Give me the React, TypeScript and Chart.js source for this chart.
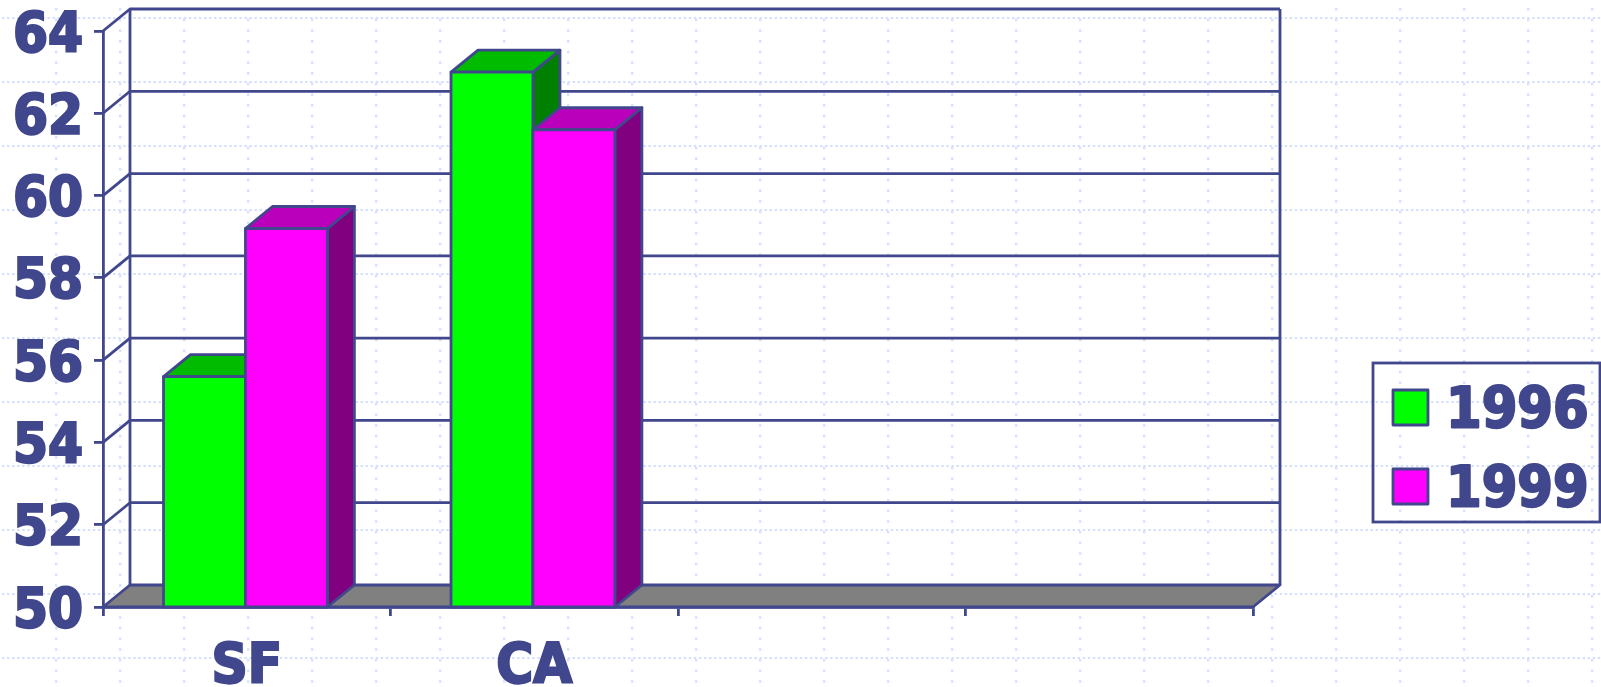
import React, { useEffect, useRef } from "react";
import { Chart, registerables } from "chart.js";

Chart.register(...registerables);

const categories = ["SF", "CA", "", ""];
const values1996 = [55.6, 63.0, null, null];
const values1999 = [59.2, 61.6, null, null];
const yMin = 50;
const yMax = 64;
const yStep = 2;

const INK = "#41478c";
const FONT = '"DejaVu Sans Condensed", "DejaVu Sans", sans-serif';
const DEPTH_X = 27;
const DEPTH_Y = 22;
const LINE = 2.8;
const BAR_NUDGE = -1.3;
const Y_LABEL_DROP = 5;
const TEXT_STROKE = 2.2;

const poly = (ctx: CanvasRenderingContext2D, pts: number[][], fill: string | null, lw = LINE) => {
  ctx.beginPath();
  pts.forEach((p, i) => (i ? ctx.lineTo(p[0], p[1]) : ctx.moveTo(p[0], p[1])));
  ctx.closePath();
  if (fill) {
    ctx.fillStyle = fill;
    ctx.fill();
  }
  ctx.lineWidth = lw;
  ctx.strokeStyle = INK;
  ctx.lineJoin = "round";
  ctx.stroke();
};

const scene = {
  id: "scene",
  beforeDraw(chart: any) {
    const { ctx, width, height } = chart;
    chart.scales.y.getLabelItems(chart.chartArea).forEach((item: any) => {
      if (!item.dropped) {
        item.textOffset += Y_LABEL_DROP;
        item.dropped = true;
      }
    });
    ctx.save();
    ctx.fillStyle = "#ffffff";
    ctx.fillRect(0, 0, width, height);
    ctx.fillStyle = "#d3dffb";
    for (let y = 17; y < height; y += 64) {
      for (let x = 2; x < width; x += 5.05) ctx.fillRect(x, y, 2.4, 2);
    }
    ctx.fillStyle = "#d6e1fb";
    for (let x = 55; x < width; x += 64) {
      for (let y = 8; y < height; y += 10.67) ctx.fillRect(x, y, 2.4, 2.6);
    }
    ctx.restore();
  },
  beforeDatasetsDraw(chart: any) {
    const { ctx, chartArea: a, scales } = chart;
    const y = scales.y;
    ctx.save();
    const bx = a.left + DEPTH_X;
    const rx = a.right + DEPTH_X;
    const by = a.bottom - DEPTH_Y;
    poly(ctx, [[a.left, a.bottom], [bx, by], [rx, by], [a.right, a.bottom]], "#808080");
    ctx.lineWidth = LINE;
    ctx.strokeStyle = INK;
    y.ticks.forEach((t: any) => {
      if (t.value === yMin) return;
      const py = y.getPixelForValue(t.value);
      ctx.beginPath();
      ctx.moveTo(a.left, py);
      ctx.lineTo(bx, py - DEPTH_Y);
      ctx.lineTo(rx, py - DEPTH_Y);
      ctx.stroke();
    });
    ctx.beginPath();
    ctx.moveTo(bx, by);
    ctx.lineTo(bx, a.top - DEPTH_Y);
    ctx.moveTo(rx, a.top - DEPTH_Y);
    ctx.lineTo(rx, by);
    ctx.stroke();
    ctx.restore();
  },
  afterDatasetsDraw(chart: any) {
    const { ctx, scales } = chart;
    const base = scales.y.getPixelForValue(yMin);
    ctx.save();
    chart.data.datasets.forEach((ds: any, index: number) => {
      const meta = chart.getDatasetMeta(index);
      meta.data.forEach((bar: any, i: number) => {
        if (ds.data[i] == null) return;
        const { x, y, width } = bar.getProps(["x", "y", "width"], true);
        const l = x - width / 2 + BAR_NUDGE;
        const r = x + width / 2 + BAR_NUDGE;
        poly(ctx, [[r, y], [r + DEPTH_X, y - DEPTH_Y], [r + DEPTH_X, base - DEPTH_Y], [r, base]], ds.sideColor);
        poly(ctx, [[l, y], [l + DEPTH_X, y - DEPTH_Y], [r + DEPTH_X, y - DEPTH_Y], [r, y]], ds.topColor);
        poly(ctx, [[l, y], [r, y], [r, base], [l, base]], ds.backgroundColor);
      });
    });
    ctx.restore();
  },
  afterDraw(chart: any) {
    const { ctx } = chart;
    ctx.save();
    ctx.strokeStyle = INK;
    ctx.lineWidth = LINE;
    ctx.strokeRect(1373, 363, 227, 159);
    const rows = [408, 487];
    chart.data.datasets.forEach((ds: any, i: number) => {
      const cy = rows[i];
      poly(ctx, [[1393, cy - 18], [1428, cy - 18], [1428, cy + 17], [1393, cy + 17]], ds.backgroundColor);
      ctx.fillStyle = INK;
      ctx.strokeStyle = INK;
      ctx.lineWidth = TEXT_STROKE;
      ctx.font = `bold 57px ${FONT}`;
      ctx.textAlign = "left";
      ctx.textBaseline = "middle";
      ctx.fillText(ds.label, 1446, cy + 5);
      ctx.strokeText(ds.label, 1446, cy + 5);
    });
    ctx.restore();
  },
};

export default function App() {
  const ref = useRef<HTMLCanvasElement>(null);
  useEffect(() => {
    const chart = new Chart(ref.current as HTMLCanvasElement, {
      type: "bar",
      data: {
        labels: categories,
        datasets: [
          {
            label: "1996",
            data: values1996,
            base: yMin,
            backgroundColor: "#00ff00",
            topColor: "#00bb00",
            sideColor: "#008000",
            borderWidth: 0,
          } as any,
          {
            label: "1999",
            data: values1999,
            base: yMin,
            backgroundColor: "#ff00ff",
            topColor: "#bb00bb",
            sideColor: "#800080",
            borderWidth: 0,
          } as any,
        ],
      },
      options: {
        responsive: false,
        animation: false,
        devicePixelRatio: 1,
        layout: { padding: { left: 0, top: 31, right: 348, bottom: 0 } },
        plugins: { legend: { display: false }, tooltip: { enabled: false }, title: { display: false } },
        datasets: { bar: { categoryPercentage: 0.57, barPercentage: 1 } },
        scales: {
          x: {
            afterFit: (s: any) => {
              s.height = 80;
              s.paddingLeft = 0;
              s.paddingRight = 0;
            },
            grid: { offset: true, drawOnChartArea: false, color: INK, lineWidth: LINE, tickLength: 9 },
            border: { color: INK, width: LINE },
            ticks: {
              color: INK,
              font: { family: FONT, size: 56, weight: "bold" },
              textStrokeColor: INK,
              textStrokeWidth: TEXT_STROKE,
              padding: 18,
              maxRotation: 0,
              autoSkip: false,
            },
          },
          y: {
            min: yMin,
            max: yMax,
            afterFit: (s: any) => {
              s.width = 103;
              s.paddingTop = 0;
              s.paddingBottom = 0;
            },
            grid: { drawOnChartArea: false, color: INK, lineWidth: LINE, tickLength: 9 },
            border: { color: INK, width: LINE },
            ticks: {
              stepSize: yStep,
              color: INK,
              font: { family: FONT, size: 56, weight: "bold" },
              textStrokeColor: INK,
              textStrokeWidth: TEXT_STROKE,
              padding: 11,
            },
          },
        },
      },
      plugins: [scene],
    } as any);
    return () => chart.destroy();
  }, []);
  return (
    <canvas
      ref={ref}
      width={1601}
      height={687}
      style={{ position: "fixed", left: 0, top: 0, width: 1601, height: 687, display: "block" }}
    />
  );
}
